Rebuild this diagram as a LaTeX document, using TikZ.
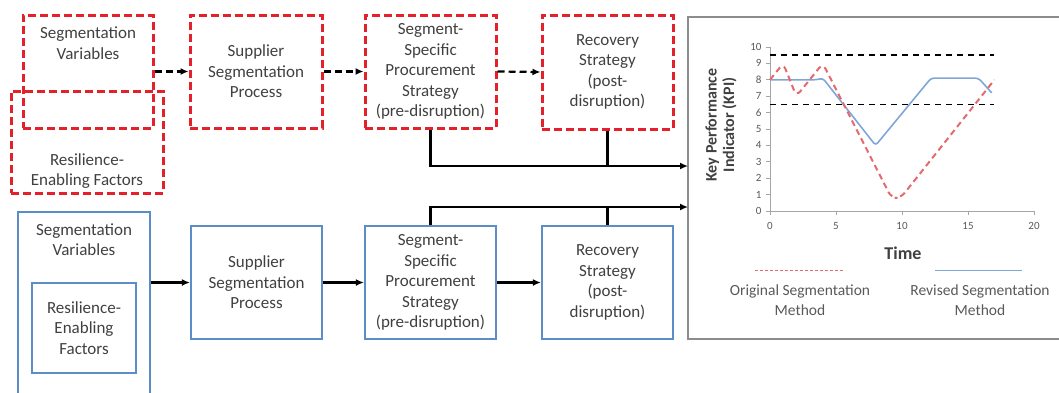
\documentclass[tikz,border=0pt]{standalone}
\usepackage{fontspec}
\setmainfont{Carlito}
\usetikzlibrary{arrows.meta}
\definecolor{redline}{HTML}{E4202A}
\definecolor{blueline}{HTML}{5B8DC9}
\definecolor{txt}{HTML}{404040}
\definecolor{kpired}{HTML}{E46A6E}
\definecolor{kpiblue}{HTML}{7FA6D8}
\definecolor{axisgray}{HTML}{A6A6A6}
\definecolor{ticktext}{HTML}{595959}
\definecolor{framegray}{HTML}{8C8C8C}

\begin{document}
\begin{tikzpicture}[x=1pt,y=-1pt,
  boxtext/.style={align=center, text=txt, font=\fontsize{17}{20.5}\selectfont},
  redbox/.style={draw=redline, line width=3pt, dash pattern=on 8pt off 4pt, rectangle, inner sep=0pt},
  bluebox/.style={draw=blueline, line width=2.2pt, rectangle, inner sep=0pt},
  flow/.style={line width=2.2pt, -{Latex[length=8pt,width=7pt]}},
  dflow/.style={flow, dash pattern=on 7pt off 4pt},
  link/.style={line width=2.2pt},
  tick/.style={text=ticktext, font=\fontsize{11}{12}\selectfont, inner sep=1pt},
  legend/.style={align=center, text=ticktext, font=\fontsize{15.5}{20}\selectfont},
]
\useasboundingbox (0,0) rectangle (1059,392);

% ---- original (dashed) segmentation chain ----
\node[redbox, minimum width=130pt, minimum height=113pt] (rsv) at (88,71.5) {};
\node[boxtext] (rsvt) at (88,43) {Segmentation\\Variables};
\node[redbox, minimum width=152pt, minimum height=102pt] (rref) at (87,142) {};
\node[boxtext] (rreft) at (87,171) {Resilience-\\Enabling Factors};
\node[redbox, boxtext, minimum width=132pt, minimum height=113pt] (rsup) at (256,71.5) {Supplier\\Segmentation\\Process};
\node[redbox, boxtext, minimum width=131pt, minimum height=113pt] (rseg) at (430.5,71.5) {Segment-\\Specific\\Procurement\\Strategy\\(pre-disruption)};
\node[redbox, boxtext, minimum width=131pt, minimum height=114pt] (rrec) at (607.5,72) {Recovery\\Strategy\\(post-\\disruption)};

\draw[dflow] (rsv.east) -- (rsup.west);
\draw[dflow] (rsup.east) -- (rseg.west);
\draw[dflow] (rseg.east) -- (rrec.west);

% ---- revised segmentation chain ----
\node[bluebox, minimum width=132pt, minimum height=186pt] (bsv) at (84,305) {};
\node[boxtext] (bsvt) at (84,239.5) {Segmentation\\Variables};
\node[bluebox, boxtext, minimum width=104pt, minimum height=90pt] (bin) at (84,328) {Resilience-\\Enabling\\Factors};
\node[bluebox, boxtext, minimum width=131pt, minimum height=113pt] (bsup) at (256.5,282.5) {Supplier\\Segmentation\\Process};
\node[bluebox, boxtext, minimum width=131pt, minimum height=113pt] (bseg) at (430.5,282.5) {Segment-\\Specific\\Procurement\\Strategy\\(pre-disruption)};
\node[bluebox, boxtext, minimum width=131pt, minimum height=113pt] (brec) at (607.5,282.5) {Recovery\\Strategy\\(post-\\disruption)};

\draw[flow] (bsup.west -| bsv.east) -- (bsup.west);
\draw[flow] (bsup.east) -- (bseg.west);
\draw[flow] (bseg.east) -- (brec.west);

% ---- KPI chart frame ----
\node[draw=framegray, line width=1.2pt, minimum width=382pt, minimum height=322pt, inner sep=0pt] (chart) at (879,178) {};
\coordinate (rin) at (688,166);
\coordinate (bin2) at (688,207);

\draw[flow] (rseg.south) |- (rin);
\draw[link] (rrec.south) -- (rrec.south |- rin);
\draw[flow] (bseg.north) |- (bin2);
\draw[link] (brec.north) -- (brec.north |- bin2);

% ---- KPI plot ----
\begin{scope}[shift={(770,211)}, x=13.2pt, y=16.4pt]
  \draw[axisgray, line width=1pt] (0,10) -- (0,0) -- (20,0);
  \foreach \v in {0,...,10} {
    \draw[axisgray, line width=0.8pt] (-0.3,\v) -- (0,\v);
    \node[tick, anchor=east] (yl\v) at (-0.55,\v) {\v};
  }
  \foreach \v in {0,5,10,15,20} {
    \draw[axisgray, line width=0.8pt] (\v,0) -- (\v,-0.25);
    \node[tick] (xl\v) at (\v,-0.9) {\v};
  }
  \draw[black, line width=1.8pt, dash pattern=on 6pt off 5pt] (0,9.5) -- (17,9.5);
  \draw[black, line width=1.8pt, dash pattern=on 6pt off 5pt] (0,6.5) -- (17,6.5);
  \draw[kpiblue, line width=1.6pt, rounded corners=3pt]
    (0,8) -- (3.5,8) -- (4,8.1) -- (8,4) -- (12.2,8.1) -- (15.8,8.1) -- (16.8,7.2);
  \draw[kpired, line width=2pt, dash pattern=on 6pt off 4pt, rounded corners=6pt]
    (0,8) -- (1,9) -- (2,7) -- (4,9) -- (9.2,0.8) -- (9.9,0.8) -- (17,8);
\end{scope}

\node[rotate=90, align=center, text=txt, font=\bfseries\fontsize{16}{17.5}\selectfont] (kpi) at (721,125) {Key Performance\\Indicator (KPI)};
\node[text=txt, font=\bfseries\fontsize{18}{20}\selectfont] (time) at (903,253) {Time};

% ---- legend ----
\draw[kpired, line width=1pt, dash pattern=on 3pt off 2pt] (755,270) coordinate (lr1) -- (843,270) coordinate (lr2);
\node[legend] (lrt) at (800,300) {Original Segmentation\\Method};
\draw[kpiblue, line width=1pt] (935,270) coordinate (lb1) -- (1022,270) coordinate (lb2);
\node[legend] (lbt) at (980,300) {Revised Segmentation\\Method};
\end{tikzpicture}
\end{document}
